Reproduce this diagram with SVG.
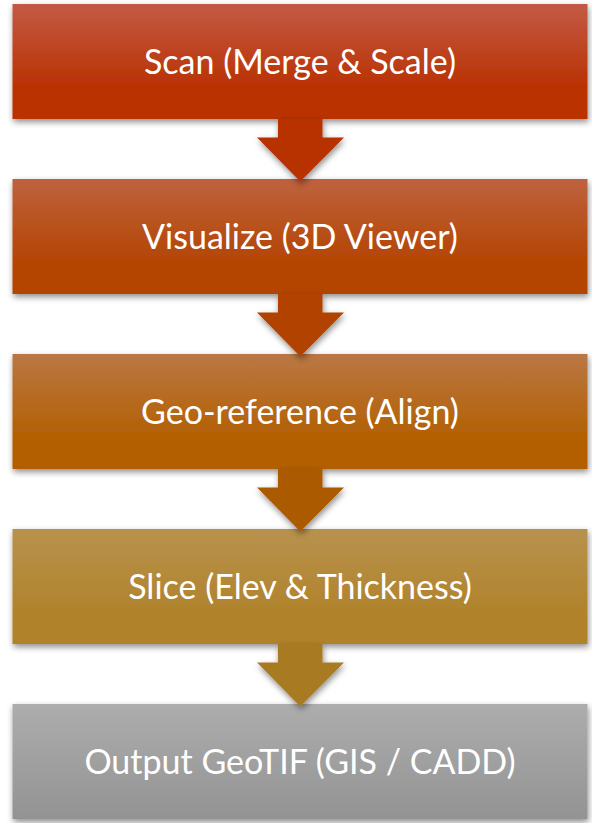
<svg xmlns="http://www.w3.org/2000/svg" width="592" height="823" viewBox="0 0 592 823">
<style>
.lbl{font-family:Lato,"Liberation Sans",sans-serif;font-size:34px;fill:#ffffff;text-anchor:middle}
</style>
<defs>
<filter id="sh" x="-10%" y="-20%" width="120%" height="150%">
<feDropShadow dx="1" dy="3" stdDeviation="3" flood-color="#000" flood-opacity="0.45"/>
</filter>
<linearGradient id="g1" x1="0" y1="0" x2="0" y2="1"><stop offset="0" stop-color="#C35A45"/><stop offset="0.75" stop-color="#B93000"/></linearGradient>
<linearGradient id="g2" x1="0" y1="0" x2="0" y2="1"><stop offset="0" stop-color="#BE623F"/><stop offset="0.75" stop-color="#B44400"/></linearGradient>
<linearGradient id="g3" x1="0" y1="0" x2="0" y2="1"><stop offset="0" stop-color="#BA7744"/><stop offset="0.75" stop-color="#B35F00"/></linearGradient>
<linearGradient id="g4" x1="0" y1="0" x2="0" y2="1"><stop offset="0" stop-color="#B8924E"/><stop offset="0.75" stop-color="#B0822A"/></linearGradient>
<linearGradient id="g5" x1="0" y1="0" x2="0" y2="1"><stop offset="0" stop-color="#ADADAD"/><stop offset="1" stop-color="#939393"/></linearGradient>
</defs>
<g id="node1"><rect x="12.5" y="4" width="575" height="115" fill="url(#g1)" filter="url(#sh)"/><text class="lbl" x="300" y="74">Scan (Merge &amp; Scale)</text></g>
<g id="node2"><rect x="12.5" y="179" width="575" height="115" fill="url(#g2)" filter="url(#sh)"/><text class="lbl" x="300" y="249">Visualize (3D Viewer)</text></g>
<g id="node3"><rect x="12.5" y="354" width="575" height="115" fill="url(#g3)" filter="url(#sh)"/><text class="lbl" x="300" y="424">Geo-reference (Align)</text></g>
<g id="node4"><rect x="12.5" y="529" width="575" height="115" fill="url(#g4)" filter="url(#sh)"/><text class="lbl" x="300" y="599">Slice (Elev &amp; Thickness)</text></g>
<g id="node5"><rect x="12.5" y="704" width="575" height="115" fill="url(#g5)" filter="url(#sh)"/><text class="lbl" x="300" y="774">Output GeoTIF (GIS / CADD)</text></g>
<g id="connectors" filter="url(#sh)">
<polygon fill="#B83000" points="278,119 322.5,119 322.5,137.5 344,137.5 300.3,181.5 257,137.5 278,137.5"/>
<polygon fill="#B14300" points="278,294 322.5,294 322.5,312.5 344,312.5 300.3,356.5 257,312.5 278,312.5"/>
<polygon fill="#AB5A00" points="278,469 322.5,469 322.5,487.5 344,487.5 300.3,531.5 257,487.5 278,487.5"/>
<polygon fill="#A87A22" points="278,644 322.5,644 322.5,662.5 344,662.5 300.3,706.5 257,662.5 278,662.5"/>
</g>
</svg>
